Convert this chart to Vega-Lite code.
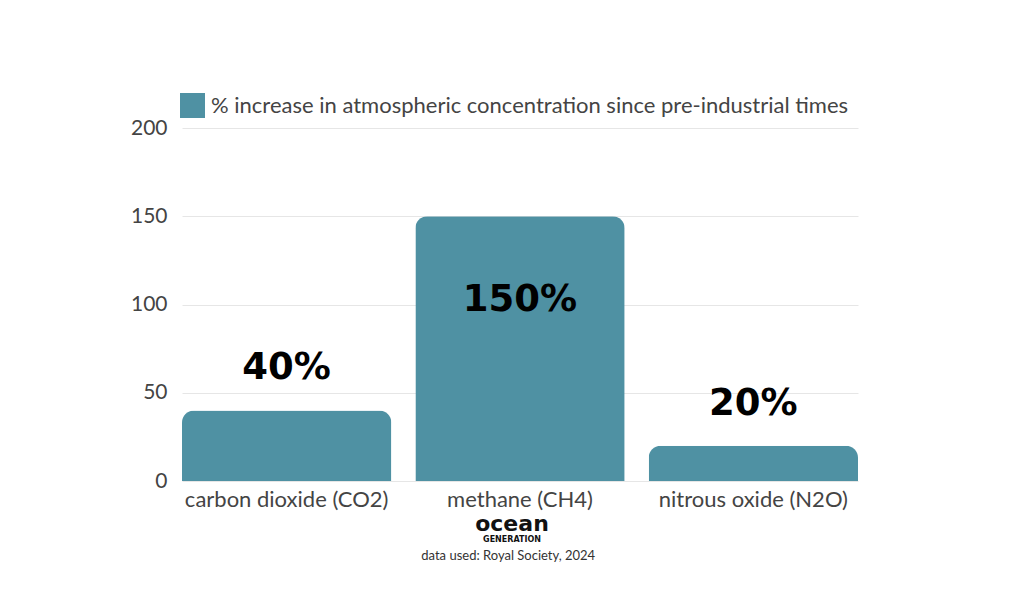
{
  "$schema": "https://vega.github.io/schema/vega-lite/v6.json",
  "padding": {"left": 130, "top": 93, "right": 0, "bottom": 0},
  "background": "#ffffff",
  "title": {
    "text": "data used: Royal Society, 2024",
    "orient": "bottom",
    "anchor": "middle",
    "font": "Lato",
    "fontSize": 13,
    "fontWeight": "normal",
    "color": "#333333",
    "offset": 6,
    "dx": 14
  },
  "config": {
    "font": "Lato",
    "view": {"stroke": null},
    "concat": {"spacing": 0}
  },
  "vconcat": [
    {
      "width": 676,
      "height": 353,
      "title": {
        "text": "ocean",
        "subtitle": "GENERATION",
        "orient": "bottom",
        "anchor": "middle",
        "dx": -8,
        "font": "DejaVu Sans",
        "fontSize": 22,
        "fontWeight": "bold",
        "color": "#111111",
        "subtitleFont": "DejaVu Sans",
        "subtitleFontSize": 8,
        "subtitleFontWeight": "bold",
        "subtitleColor": "#111111",
        "subtitlePadding": 0,
        "offset": 4
      },
      "data": {
        "values": [
          {"gas": "carbon dioxide (CO2)", "value": 40, "series": "% increase in atmospheric concentration since pre-industrial times"},
          {"gas": "methane (CH4)", "value": 150, "series": "% increase in atmospheric concentration since pre-industrial times"},
          {"gas": "nitrous oxide (N2O)", "value": 20, "series": "% increase in atmospheric concentration since pre-industrial times"}
        ]
      },
      "encoding": {
        "x": {
          "field": "gas",
          "type": "nominal",
          "sort": null,
          "scale": {"paddingInner": 0.103, "paddingOuter": 0},
          "axis": {
            "title": null,
            "labelAngle": 0,
            "labelFontSize": 22,
            "labelColor": "#444444",
            "labelPadding": 8,
            "labelLimit": 0,
            "ticks": false,
            "domain": false
          }
        },
        "y": {
          "field": "value",
          "type": "quantitative",
          "scale": {"domain": [0, 200]},
          "axis": {
            "title": null,
            "values": [0, 50, 100, 150, 200],
            "labelFontSize": 21,
            "labelColor": "#444444",
            "labelPadding": 15,
            "ticks": false,
            "domain": false,
            "gridColor": "#e6e6e6",
            "gridWidth": 1
          }
        }
      },
      "layer": [
        {
          "mark": {
            "type": "bar",
            "cornerRadiusTopLeft": 12,
            "cornerRadiusTopRight": 12
          },
          "encoding": {
            "color": {
              "field": "series",
              "type": "nominal",
              "scale": {"range": ["#4f91a3"]},
              "legend": {
                "title": null,
                "orient": "none",
                "legendX": -2,
                "legendY": -35,
                "symbolType": "square",
                "symbolSize": 625,
                "symbolStrokeWidth": 0,
                "symbolOpacity": 1,
                "labelFontSize": 22,
                "labelColor": "#444444",
                "labelOffset": 6,
                "labelLimit": 800
              }
            }
          }
        },
        {
          "transform": [{"filter": "datum.value < 100"}],
          "mark": {
            "type": "text",
            "dy": -42,
            "baseline": "middle",
            "font": "DejaVu Sans",
            "fontSize": 37,
            "fontWeight": "bold",
            "color": "#000000",
            "text": {"expr": "datum.value + '%'"}
          }
        },
        {
          "transform": [{"filter": "datum.value >= 100"}],
          "mark": {
            "type": "text",
            "dy": 84,
            "baseline": "middle",
            "font": "DejaVu Sans",
            "fontSize": 37,
            "fontWeight": "bold",
            "color": "#000000",
            "text": {"expr": "datum.value + '%'"}
          }
        }
      ]
    }
  ]
}
